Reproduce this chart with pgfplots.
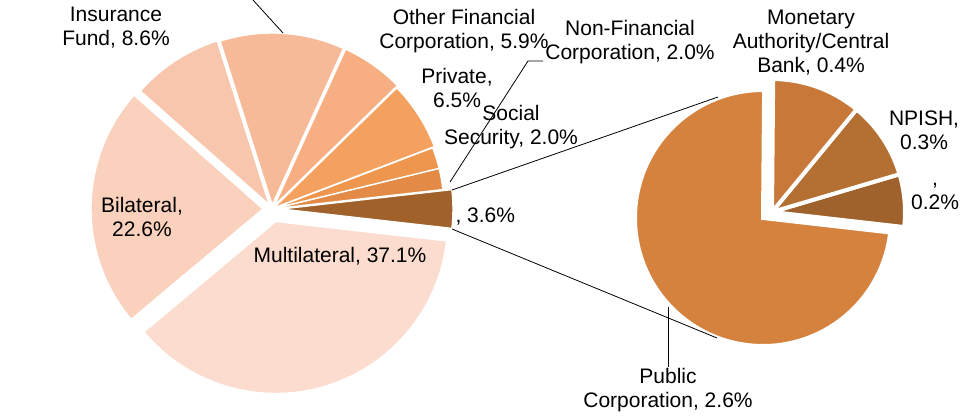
\documentclass[border=0pt]{standalone}
\usepackage{fontspec}
\setmainfont{Liberation Sans}
\usepackage{pgfplots}
\usepackage{pgfplotstable}
\pgfplotsset{compat=1.18}

\definecolor{cA}{HTML}{A0612B}
\definecolor{cB}{HTML}{E38B46}
\definecolor{cC}{HTML}{EE964D}
\definecolor{cD}{HTML}{F4A15F}
\definecolor{cE}{HTML}{F6AE82}
\definecolor{cF}{HTML}{F7BA98}
\definecolor{cG}{HTML}{F8C6AC}
\definecolor{cH}{HTML}{F9D1BC}
\definecolor{cI}{HTML}{FBDCCE}
\definecolor{pA}{HTML}{A0622C}
\definecolor{pB}{HTML}{B46F33}
\definecolor{pC}{HTML}{C8793A}
\definecolor{pD}{HTML}{D4823E}

% main pie, counter-clockwise from the "other" slice; dx dy = explosion
\pgfplotstableread{
share dx   dy    r   col
3.6   9    0     172 cA
2.0   0    0     172 cB
2.0   0    0     172 cC
6.5   1.7  1.1   172 cD
5.9   2.3  3.3   172 cE
11.7  0.2  4     172 cF
8.6  -2.7  4.2   172 cG
22.6 -9    0.1   172 cH
37.1  3.7 -12.5  172 cI
}\mainpie

% second pie: split of the 3.6% slice
\pgfplotstableread{
share dx dy r   col
0.23  9  6  133 pA
0.34  9  6  133 pB
0.39  9  6  133 pC
2.64  0  0  128 pD
}\subpie

% #1 table, #2 cx, #3 cy, #4 start angle, #5 degrees per unit, #6 border width
\newcommand\drawpie[6]{%
  \pgfplotstablegetrowsof{#1}\let\nrows\pgfplotsretval
  \pgfmathsetmacro\angA{#4}%
  \pgfmathtruncatemacro\lastrow{\nrows-1}%
  \pgfplotsforeachungrouped \i in {0,...,\lastrow}{%
    \pgfplotstablegetelem{\i}{share}\of{#1}\let\sh\pgfplotsretval
    \pgfplotstablegetelem{\i}{dx}\of{#1}\let\ddx\pgfplotsretval
    \pgfplotstablegetelem{\i}{dy}\of{#1}\let\ddy\pgfplotsretval
    \pgfplotstablegetelem{\i}{r}\of{#1}\let\rr\pgfplotsretval
    \pgfplotstablegetelem{\i}{col}\of{#1}\let\col\pgfplotsretval
    \pgfmathsetmacro\angB{\angA+\sh*#5}%
    \pgfmathsetmacro\px{#2+\ddx}%
    \pgfmathsetmacro\py{#3+\ddy}%
    \edef\tmp{\noexpand\filldraw[fill=\col, draw=white, line width=#6]
      (axis cs:\px,\py) -- ++(\angA:\rr pt)
      arc[start angle=\angA, end angle=\angB, radius=\rr pt] -- cycle;}%
    \tmp
    \global\let\angA\angB
  }%
}

\begin{document}
\begin{tikzpicture}[font=\fontsize{21}{24}\selectfont]
\begin{axis}[name=ax, x=1pt, y=1pt, xmin=0, xmax=963, ymin=0, ymax=416,
  axis lines=none, clip=true]
\drawpie{\mainpie}{272}{207}{-6.48}{3.6}{1.4pt}
\drawpie{\subpie}{763}{198}{-6.5}{100}{4pt}

% connectors
\draw[black, line width=0.8pt] (axis cs:452,226) -- (axis cs:718,319);
\draw[black, line width=0.8pt] (axis cs:452,187) -- (axis cs:717,78);
% leader lines
\draw[black, line width=0.8pt] (axis cs:283,383) -- (axis cs:253,416);
\draw[black, line width=0.8pt] (axis cs:450,234) -- (axis cs:528,355) -- (axis cs:543,355);
\draw[black, line width=0.8pt] (axis cs:668,109) -- (axis cs:668,49);

% labels
\node[align=center] at (axis cs:116,388) {Insurance\\Fund, 8.6\%};
\node[align=center] at (axis cs:464,385) {Other Financial\\Corporation, 5.9\%};
\node[align=center] at (axis cs:630,374) {Non-Financial\\Corporation, 2.0\%};
\node[align=center] at (axis cs:457,328) {Private,\\6.5\%};
\node[align=center] at (axis cs:511,289) {Social\\Security, 2.0\%};
\node[anchor=west] at (axis cs:452,199) {, 3.6\%};
\node[align=center] at (axis cs:142,199) {Bilateral,\\22.6\%};
\node at (axis cs:340,160) {Multilateral, 37.1\%};
\node[align=center] at (axis cs:811,373) {Monetary\\Authority/Central\\Bank, 0.4\%};
\node[align=center] at (axis cs:924,286) {NPISH,\\0.3\%};
\node[align=center] at (axis cs:935,220) {,\\0.2\%};
\node[align=center] at (axis cs:668,26) {Public\\Corporation, 2.6\%};
\end{axis}
\pgfresetboundingbox
\path (ax.south west) rectangle (ax.north east);
\end{tikzpicture}
\end{document}
